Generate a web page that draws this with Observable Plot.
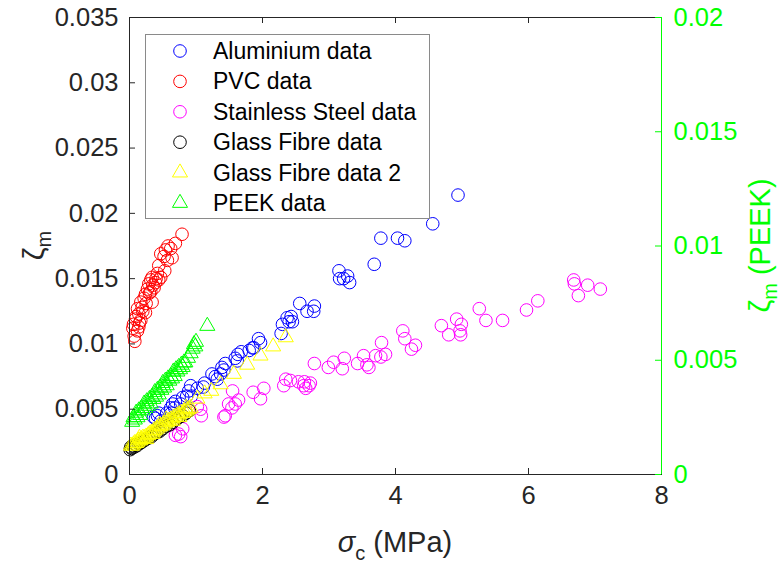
<!DOCTYPE html>
<html>
<head>
<meta charset="utf-8">
<script src="https://cdn.jsdelivr.net/npm/d3@7"></script>
<script src="https://cdn.jsdelivr.net/npm/@observablehq/plot@0.6"></script>
<style>
  body { margin: 0; background: #fff; }
  #chart { width: 783px; height: 565px; }
</style>
</head>
<body>
<div id="chart"></div>
<script>
// σc (MPa) vs ζm for each material, [x, y]
const aluminium = [[4.94,0.0214],[4.56,0.0192],[3.78,0.0181],[4.03,0.0181],[4.14,0.0179],[3.68,0.0161],[3.15,0.0156],[3.16,0.0150],[3.28,0.0152],[3.31,0.0147],[3.22,0.0150],[2.56,0.0131],[2.67,0.0125],[2.78,0.0129],[2.77,0.0125],[2.37,0.0120],[2.43,0.0121],[2.45,0.0117],[2.30,0.0115],[2.28,0.0108],[2.40,0.0117],[1.94,0.0104],[1.97,0.0101],[1.87,0.0097],[1.80,0.0095],[1.85,0.0097],[1.68,0.0094],[1.63,0.0092],[1.59,0.0089],[1.62,0.0087],[1.44,0.0085],[1.39,0.0082],[1.42,0.0080],[1.37,0.0077],[1.29,0.0075],[1.32,0.0073],[1.24,0.0077],[1.13,0.0070],[1.11,0.0067],[1.02,0.0066],[0.92,0.0068],[0.89,0.0064],[0.93,0.0060],[0.86,0.0060],[0.80,0.0059],[0.77,0.0054],[0.69,0.0056],[0.65,0.0054],[0.62,0.0051],[0.68,0.0051],[0.63,0.0047],[0.56,0.0047],[0.47,0.0041],[0.44,0.0047],[0.42,0.0045],[0.39,0.0043],[0.36,0.0044]];
const pvc = [[0.79,0.0184],[0.69,0.0177],[0.58,0.0175],[0.54,0.0172],[0.62,0.0173],[0.47,0.0169],[0.64,0.0166],[0.52,0.0167],[0.57,0.0164],[0.44,0.0160],[0.53,0.0156],[0.42,0.0154],[0.47,0.0151],[0.34,0.0151],[0.32,0.0149],[0.39,0.0147],[0.29,0.0146],[0.44,0.0149],[0.27,0.0142],[0.37,0.0143],[0.24,0.0138],[0.32,0.0140],[0.22,0.0135],[0.34,0.0132],[0.17,0.0132],[0.19,0.0128],[0.12,0.0127],[0.14,0.0123],[0.24,0.0124],[0.09,0.0119],[0.17,0.0118],[0.06,0.0115],[0.14,0.0113],[0.05,0.0112],[0.12,0.0110],[0.08,0.0102],[0.30,0.0139],[0.25,0.0131],[0.20,0.0125],[0.35,0.0145],[0.40,0.0150],[0.10,0.0121],[0.07,0.0106],[0.15,0.0116]];
const stainless = [[6.68,0.0149],[6.69,0.0146],[6.89,0.0145],[7.08,0.0142],[6.75,0.0137],[6.14,0.0133],[5.97,0.0126],[5.26,0.0127],[5.36,0.0118],[5.61,0.0118],[4.92,0.0119],[4.99,0.0115],[4.69,0.0114],[4.80,0.0107],[4.97,0.0110],[4.98,0.0107],[4.11,0.0110],[4.14,0.0104],[4.30,0.0099],[4.24,0.0096],[3.79,0.0101],[3.85,0.0092],[3.78,0.0090],[3.70,0.0091],[3.52,0.0091],[3.57,0.0084],[3.60,0.0082],[3.43,0.0085],[3.23,0.0089],[3.07,0.0086],[3.20,0.0081],[2.99,0.0082],[2.78,0.0085],[2.63,0.0071],[2.70,0.0068],[2.62,0.0068],[2.65,0.0066],[2.35,0.0073],[2.32,0.0068],[2.42,0.0072],[2.54,0.0071],[2.72,0.0070],[2.02,0.0066],[1.86,0.0063],[1.97,0.0058],[1.55,0.0064],[1.49,0.0054],[1.59,0.0054],[1.64,0.0057],[1.54,0.0051],[1.44,0.0045],[1.42,0.0044],[1.07,0.0050],[1.08,0.0045],[1.02,0.0052],[0.80,0.0035],[0.74,0.0031],[0.69,0.0030],[0.77,0.0029]];
const glassFibre = [[0.01,0.0019],[0.02,0.0021],[0.03,0.0020],[0.05,0.0022],[0.07,0.0021],[0.09,0.0023],[0.11,0.0022],[0.13,0.0024],[0.16,0.0024],[0.19,0.0025],[0.22,0.0026],[0.25,0.0027],[0.29,0.0028],[0.33,0.0029],[0.37,0.0031],[0.41,0.0032],[0.45,0.0033],[0.50,0.0035],[0.55,0.0037],[0.60,0.0038],[0.65,0.0040],[0.70,0.0042],[0.75,0.0044],[0.80,0.0045],[0.85,0.0047],[0.90,0.0049]];
const glassFibre2 = [[0.02,0.0022],[0.04,0.0022],[0.06,0.0023],[0.08,0.0024],[0.10,0.0024],[0.12,0.0025],[0.14,0.0026],[0.16,0.0026],[0.18,0.0027],[0.20,0.0028],[0.22,0.0028],[0.25,0.0029],[0.28,0.0030],[0.30,0.0031],[0.33,0.0032],[0.36,0.0033],[0.38,0.0034],[0.41,0.0035],[0.44,0.0036],[0.47,0.0037],[0.50,0.0038],[0.53,0.0039],[0.56,0.0040],[0.59,0.0041],[0.62,0.0042],[0.65,0.0043],[0.68,0.0044],[0.71,0.0045],[0.74,0.0046],[0.77,0.0047],[0.80,0.0047],[0.83,0.0048],[0.86,0.0049],[0.89,0.0050],[0.92,0.0051],[0.15,0.0028],[0.35,0.0031],[0.55,0.0042],[0.75,0.0044],[0.45,0.0038],[0.65,0.0041],[0.85,0.0051],[0.25,0.0027],[1.02,0.0058],[1.13,0.0062],[1.23,0.0064],[1.37,0.0069],[1.57,0.0077],[1.77,0.0084],[1.97,0.0091],[2.16,0.0098],[2.35,0.0105]];
// PEEK values are on the right-hand ζm axis
const peek = [[0.04,0.0023],[0.06,0.0025],[0.08,0.0024],[0.10,0.0027],[0.12,0.0025],[0.14,0.0028],[0.16,0.0026],[0.18,0.0029],[0.20,0.0028],[0.22,0.0031],[0.24,0.0029],[0.26,0.0032],[0.28,0.0030],[0.30,0.0033],[0.32,0.0031],[0.34,0.0034],[0.36,0.0033],[0.38,0.0036],[0.40,0.0034],[0.42,0.0037],[0.44,0.0035],[0.46,0.0038],[0.48,0.0037],[0.50,0.0040],[0.52,0.0038],[0.54,0.0041],[0.56,0.0039],[0.58,0.0042],[0.60,0.0041],[0.62,0.0043],[0.64,0.0042],[0.66,0.0045],[0.68,0.0043],[0.70,0.0046],[0.72,0.0045],[0.74,0.0047],[0.76,0.0046],[0.78,0.0048],[0.80,0.0047],[0.82,0.0049],[0.84,0.0049],[0.88,0.0051],[0.92,0.0053],[0.95,0.0055],[0.97,0.0057],[1.00,0.0058],[0.99,0.0056],[1.17,0.0065]];

const seriesNames = ["Aluminium data", "PVC data", "Stainless Steel data", "Glass Fibre data", "Glass Fibre data 2", "PEEK data"];
const seriesColors = ["#0000ff", "#ff0000", "#ff00ff", "#000000", "#ffff00", "#00ff00"];
const seriesSymbols = ["circle", "circle", "circle", "circle", "triangle", "triangle"];

const xDomain = [0, 8];
const xTicks = [0, 2, 4, 6, 8];
const yTicks = [0, 0.005, 0.01, 0.015, 0.02, 0.025, 0.03, 0.035];
const rightTicks = [0, 0.005, 0.01, 0.015, 0.02];

// right axis values are drawn on the left scale
const ratio = yTicks[yTicks.length - 1] / rightTicks[rightTicks.length - 1];

const W = 783, H = 565;
const M = {top: 17, right: 122, bottom: 91, left: 129};
const innerW = W - M.left - M.right;
const innerH = H - M.top - M.bottom;
const tickLen = 6;
const axisColor = "#262626";
const green = "#00ff00";
const font = "'Liberation Sans', Arial, Helvetica, sans-serif";
const tickFont = 25.5;
const titleFont = 29;
const circleR = 6.3, triR = 5.6;

const allSeries = [aluminium, pvc, stainless, glassFibre, glassFibre2, peek];
const tables = allSeries.map((s, i) => s.map(([x, y]) => ({x, y: i === 5 ? y * ratio : y})));

const dotMarks = tables.map((t, i) => Plot.dot(t, {
  x: "x", y: "y",
  symbol: seriesSymbols[i],
  r: seriesSymbols[i] === "circle" ? circleR : triR,
  stroke: seriesColors[i], fill: "none", strokeWidth: 1
}));

const innerX = xTicks.slice(1, -1);

const chart = Plot.plot({
  width: W, height: H,
  marginTop: M.top, marginRight: M.right, marginBottom: M.bottom, marginLeft: M.left,
  x: {domain: xDomain, axis: null},
  y: {domain: [yTicks[0], yTicks[yTicks.length - 1]], axis: null},
  style: {fontFamily: font, background: "white", overflow: "visible"},
  marks: [
    ...dotMarks,
    Plot.frame({stroke: axisColor, strokeWidth: 1}),
    Plot.ruleX([xDomain[1]], {stroke: green, strokeWidth: 1}),
    Plot.tickX(innerX, {x: d => d, insetTop: innerH - tickLen, stroke: axisColor}),
    Plot.tickX(innerX, {x: d => d, insetBottom: innerH - tickLen, stroke: axisColor}),
    Plot.tickY(yTicks, {y: d => d, insetRight: innerW - tickLen, stroke: axisColor}),
    Plot.tickY(rightTicks, {y: d => d * ratio, insetLeft: innerW - tickLen, stroke: green}),
    Plot.text(xTicks, {x: d => d, frameAnchor: "bottom", dy: 29, text: d => String(d), fontSize: tickFont, fill: axisColor}),
    Plot.text(yTicks, {y: d => d, frameAnchor: "left", dx: -11, textAnchor: "end", text: d => String(d), fontSize: tickFont, fill: axisColor}),
    Plot.text(rightTicks, {y: d => d * ratio, frameAnchor: "right", dx: 12, textAnchor: "start", text: d => String(d), fontSize: tickFont, fill: green})
  ]
});

document.getElementById("chart").appendChild(chart);

const svg = d3.select(chart);

// axis titles with subscripts
const xt = svg.append("text")
  .attr("x", M.left + innerW / 2).attr("y", 552)
  .attr("text-anchor", "middle").attr("font-size", titleFont).attr("fill", axisColor);
xt.append("tspan").attr("font-style", "italic").text("σ");
xt.append("tspan").attr("font-size", 20).attr("dy", 8).text("c");
xt.append("tspan").attr("dy", -8).text(" (MPa)");

const yt = svg.append("text")
  .attr("transform", `translate(44,${M.top + innerH / 2}) rotate(-90)`)
  .attr("text-anchor", "middle").attr("font-size", titleFont).attr("fill", axisColor);
yt.append("tspan").text("ζ");
yt.append("tspan").attr("font-size", 20).attr("dy", 7).text("m");

const yr = svg.append("text")
  .attr("transform", `translate(770,${M.top + innerH / 2}) rotate(-90)`)
  .attr("text-anchor", "middle").attr("font-size", titleFont).attr("fill", green);
yr.append("tspan").text("ζ");
yr.append("tspan").attr("font-size", 20).attr("dy", 7).text("m");
yr.append("tspan").attr("dy", -7).text(" (PEEK)");

// legend box
const lg = svg.append("g").attr("font-size", 23).attr("fill", "#000").attr("text-anchor", "start");
lg.append("rect").attr("x", 145.5).attr("y", 34.5).attr("width", 284).attr("height", 184)
  .attr("fill", "white").attr("stroke", "#8a8a8a").attr("stroke-width", 1);
seriesNames.forEach((name, i) => {
  const cy = 51 + i * 30.4;
  const isCircle = seriesSymbols[i] === "circle";
  const r = isCircle ? circleR : triR;
  const sym = isCircle ? d3.symbolCircle : d3.symbolTriangle;
  lg.append("path")
    .attr("transform", `translate(180,${cy})`)
    .attr("d", d3.symbol(sym, r * r * Math.PI)())
    .attr("fill", "none").attr("stroke", seriesColors[i]).attr("stroke-width", 1);
  lg.append("text").attr("x", 213).attr("y", cy).attr("dy", "0.35em")
    .attr("text-anchor", "start").text(name);
});
</script>
</body>
</html>
